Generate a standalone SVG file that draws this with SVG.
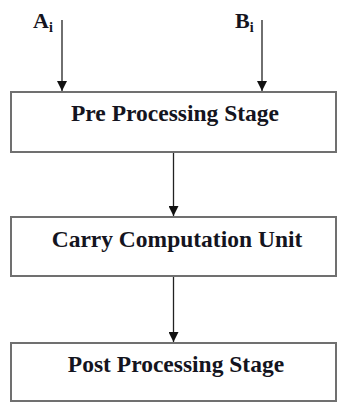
<svg xmlns="http://www.w3.org/2000/svg" width="338" height="403" viewBox="0 0 338 403">
  <style>
    .box { fill: #ffffff; stroke: #707070; stroke-width: 2; }
    .label { font-family: "Liberation Serif", "Times New Roman", serif; font-weight: bold; font-size: 23.5px; fill: #141420; text-anchor: middle; }
    .io { font-family: "Liberation Serif", "Times New Roman", serif; font-weight: bold; font-size: 22px; fill: #141420; }
    .sub { font-size: 14px; }
    .wire { stroke: #222222; stroke-width: 1.3; fill: none; marker-end: url(#head); }
  </style>
  <defs>
    <marker id="head" viewBox="0 0 10 10" refX="10" refY="5" markerWidth="10" markerHeight="10" markerUnits="userSpaceOnUse" orient="auto">
      <path d="M0,0 L10,5 L0,10 Z" fill="#111111"/>
    </marker>
  </defs>
  <rect width="338" height="403" fill="#ffffff"/>

  <g id="input-a">
    <text class="io" x="33" y="28">A<tspan class="sub" dy="4">i</tspan></text>
  </g>
  <g id="input-b">
    <text class="io" x="235" y="28">B<tspan class="sub" dy="4">i</tspan></text>
  </g>

  <g id="pre-processing">
    <rect class="box" x="11" y="92" width="325" height="60"/>
    <text class="label" x="175" y="121">Pre Processing Stage</text>
  </g>
  <g id="carry-computation">
    <rect class="box" x="11" y="217" width="325" height="59"/>
    <text class="label" x="177" y="247">Carry Computation Unit</text>
  </g>
  <g id="post-processing">
    <rect class="box" x="11" y="343" width="325" height="58"/>
    <text class="label" x="176" y="372">Post Processing Stage</text>
  </g>

  <g id="connectors">
    <line class="wire" x1="62" y1="20" x2="62" y2="91"/>
    <line class="wire" x1="262" y1="20" x2="262" y2="91"/>
    <line class="wire" x1="173.5" y1="153" x2="173.5" y2="216"/>
    <line class="wire" x1="173.5" y1="277" x2="173.5" y2="342"/>
  </g>
</svg>
